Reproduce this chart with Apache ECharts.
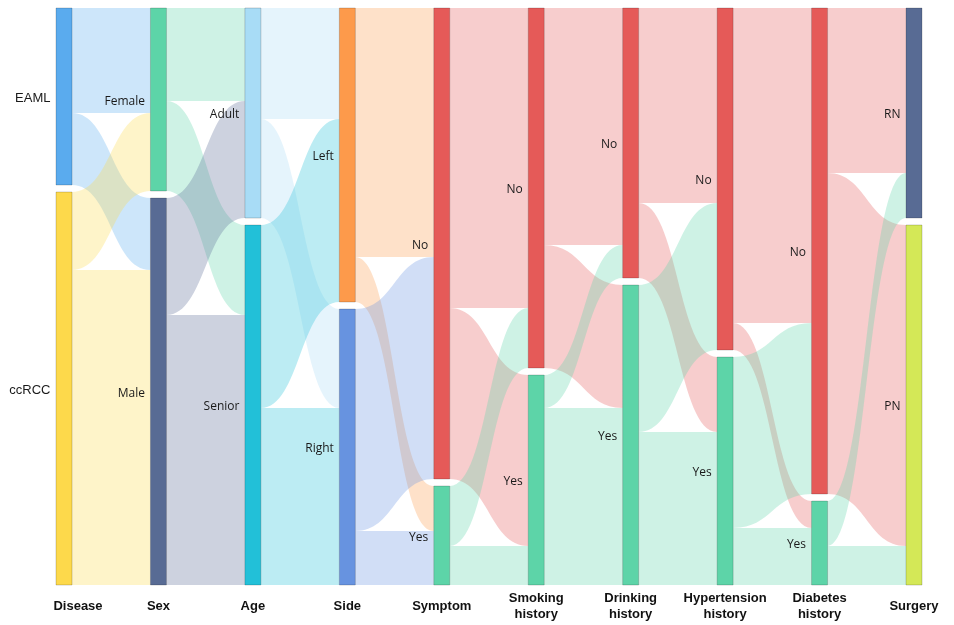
<!DOCTYPE html>
<html>
<head>
<meta charset="utf-8">
<title>Sankey</title>
<script src="https://cdn.jsdelivr.net/npm/echarts@6/dist/echarts.min.js"></script>
<style>
  html, body { margin: 0; padding: 0; background: #fff; }
  #chart { width: 954px; height: 625px; }
</style>
</head>
<body>
<div id="chart"></div>
<script>
// Column titles, left to right
const columns = ['Disease', 'Sex', 'Age', 'Side', 'Symptom', 'Smoking\nhistory',
  'Drinking\nhistory', 'Hypertension\nhistory', 'Diabetes\nhistory', 'Surgery'];

// Categories in each column (top to bottom)
const categories = [
  ['EAML', 'ccRCC'],
  ['Female', 'Male'],
  ['Adult', 'Senior'],
  ['Left', 'Right'],
  ['No', 'Yes'],
  ['No', 'Yes'],
  ['No', 'Yes'],
  ['No', 'Yes'],
  ['No', 'Yes'],
  ['RN', 'PN']
];

// Patient counts flowing from column i to column i+1:
// [first->first, first->second, second->first, second->second]
const flows = [
  [35, 24, 26, 105],
  [31, 30, 39, 90],
  [37, 33, 61, 59],
  [83, 15, 74, 18],
  [100, 57, 20, 13],
  [79, 41, 11, 59],
  [65, 25, 49, 51],
  [105, 9, 57, 19],
  [55, 107, 15, 13]
];

// Node colours per column
const nodeColors = [
  ['#5aabee', '#fdd94b'],
  ['#5dd4a8', '#586b94'],
  ['#a8dcf6', '#22c0d8'],
  ['#fd9a4b', '#6793e0'],
  ['#e55a58', '#5dd4a8'],
  ['#e55a58', '#5dd4a8'],
  ['#e55a58', '#5dd4a8'],
  ['#e55a58', '#5dd4a8'],
  ['#e55a58', '#5dd4a8'],
  ['#586b94', '#d4e857']
];

const nodes = [];
categories.forEach((cats, c) => {
  cats.forEach((name, k) => {
    const node = {
      name: c + ':' + name,
      text: name,
      itemStyle: { color: nodeColors[c][k] }
    };
    // the disease labels use a slightly larger face
    if (c === 0) {
      node.label = { fontSize: 13, fontFamily: '"Liberation Sans", Arial, sans-serif' };
    }
    nodes.push(node);
  });
});

const links = [];
flows.forEach((f, c) => {
  const a = categories[c], b = categories[c + 1];
  links.push({ source: c + ':' + a[0], target: (c + 1) + ':' + b[0], value: f[0] });
  links.push({ source: c + ':' + a[0], target: (c + 1) + ':' + b[1], value: f[1] });
  links.push({ source: c + ':' + a[1], target: (c + 1) + ':' + b[0], value: f[2] });
  links.push({ source: c + ':' + a[1], target: (c + 1) + ':' + b[1], value: f[3] });
});

const W = 954, H = 625;
const L = 56, R = 32, T = 8, B = 40, NW = 16;
const step = (W - L - R - NW) / (columns.length - 1);

const titles = columns.map((t, i) => {
  let cx = L + i * step + NW / 2;
  if (i === 0) cx = L + 22;
  return {
    type: 'text',
    x: cx,
    y: 606,
    style: {
      text: t,
      align: 'center',
      verticalAlign: 'middle',
      font: 'bold 13px "Liberation Sans", Arial, sans-serif',
      lineHeight: 16,
      fill: '#111'
    },
    silent: true
  };
});

const chart = echarts.init(document.getElementById('chart'), null, { renderer: 'canvas' });
chart.setOption({
  backgroundColor: '#fff',
  animation: false,
  tooltip: { show: false },
  graphic: titles,
  series: [{
    type: 'sankey',
    left: L, right: R, top: T, bottom: B,
    nodeWidth: NW,
    nodeGap: 7,
    layoutIterations: 0,
    draggable: false,
    emphasis: { disabled: true },
    data: nodes,
    links: links,
    label: {
      position: 'left',
      distance: 5,
      offset: [0, 2],
      color: '#1a1a1a',
      fontSize: 12,
      fontFamily: '"Open Sans", "Noto Sans", sans-serif',
      formatter: p => p.data.text
    },
    itemStyle: { borderWidth: 1, borderColor: 'rgba(0,0,0,0.18)' },
    lineStyle: { color: 'source', opacity: 0.3, curveness: 0.5 }
  }]
});
</script>
</body>
</html>
